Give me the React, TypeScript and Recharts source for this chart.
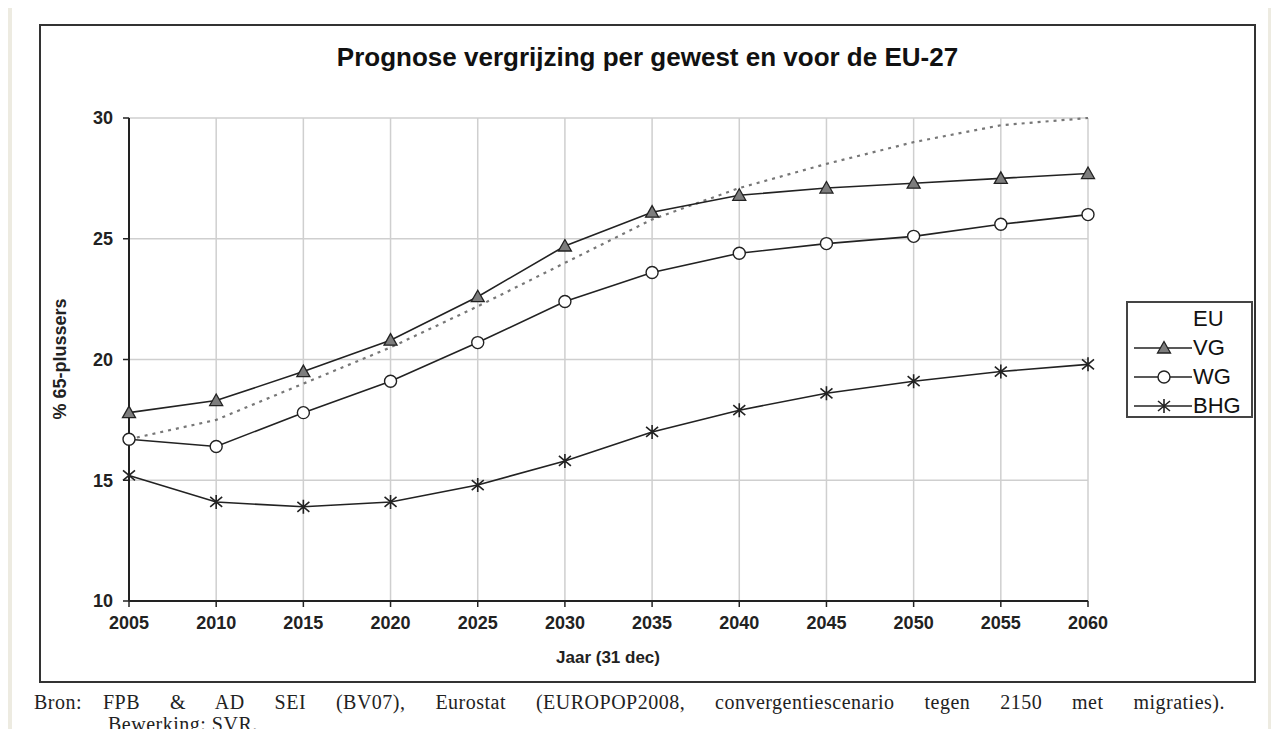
import React from 'react';
import { LineChart, Line, XAxis, YAxis, CartesianGrid } from 'recharts';

// years on the x axis
const years = [2005, 2010, 2015, 2020, 2025, 2030, 2035, 2040, 2045, 2050, 2055, 2060];

// % 65-plussers per series
const euValues = [16.7, 17.5, 19.0, 20.5, 22.2, 24.0, 25.8, 27.1, 28.1, 29.0, 29.7, 30.0];
const vgValues = [17.8, 18.3, 19.5, 20.8, 22.6, 24.7, 26.1, 26.8, 27.1, 27.3, 27.5, 27.7];
const wgValues = [16.7, 16.4, 17.8, 19.1, 20.7, 22.4, 23.6, 24.4, 24.8, 25.1, 25.6, 26.0];
const bhgValues = [15.2, 14.1, 13.9, 14.1, 14.8, 15.8, 17.0, 17.9, 18.6, 19.1, 19.5, 19.8];

const yTicks = [10, 15, 20, 25, 30];

const data = years.map((year, i) => ({
  year,
  EU: euValues[i],
  VG: vgValues[i],
  WG: wgValues[i],
  BHG: bhgValues[i],
}));

const INK = '#222';
const SANS = 'Liberation Sans, Arial, sans-serif';
const SERIF = 'Liberation Serif, Times New Roman, serif';

const Triangle = ({ cx, cy }: { cx: number; cy: number }) => (
  <path
    d={`M${cx},${cy - 6.5} L${cx + 6.5},${cy + 5} L${cx - 6.5},${cy + 5} Z`}
    fill="#7d7d7d"
    stroke={INK}
    strokeWidth={1.3}
  />
);

const Circle = ({ cx, cy }: { cx: number; cy: number }) => (
  <circle cx={cx} cy={cy} r={6} fill="#fff" stroke={INK} strokeWidth={1.4} />
);

const Star = ({ cx, cy }: { cx: number; cy: number }) => (
  <path
    d={`M${cx},${cy - 7} L${cx},${cy + 7} M${cx - 6},${cy - 5} L${cx + 6},${cy + 5} M${cx - 6},${cy + 5} L${cx + 6},${cy - 5}`}
    stroke={INK}
    strokeWidth={1.6}
    fill="none"
  />
);

const dotOf = (Marker: React.FC<{ cx: number; cy: number }>) => (props: any) => (
  <Marker key={`d-${props.index}`} cx={props.cx} cy={props.cy} />
);

const legendItems: { name: string; Marker: React.FC<{ cx: number; cy: number }> | null }[] = [
  { name: 'EU', Marker: null },
  { name: 'VG', Marker: Triangle },
  { name: 'WG', Marker: Circle },
  { name: 'BHG', Marker: Star },
];

const tickStyle = { fontFamily: SANS, fontSize: 18, fontWeight: 700, fill: INK };

const sourceStyle: React.CSSProperties = {
  position: 'absolute',
  fontFamily: SERIF,
  fontSize: 20,
  color: '#222',
  lineHeight: '20px',
  letterSpacing: 0.5,
  whiteSpace: 'nowrap',
};

export default function App() {
  return (
    <div style={{ position: 'relative', width: 1279, height: 737, margin: -8, background: '#edebe1', overflow: 'hidden' }}>
      <div style={{ position: 'absolute', left: 12, top: 8, width: 1256, height: 729, background: '#fff' }} />
      <div
        style={{
          position: 'absolute',
          left: 39,
          top: 24,
          width: 1217,
          height: 659,
          border: '2px solid #333',
          boxSizing: 'border-box',
        }}
      />
      <div
        style={{
          position: 'absolute',
          left: 39,
          width: 1217,
          top: 42,
          textAlign: 'center',
          fontFamily: SANS,
          fontWeight: 700,
          fontSize: 26,
          color: '#111',
        }}
      >
        Prognose vergrijzing per gewest en voor de EU-27
      </div>

      <div style={{ position: 'absolute', left: 41, top: 26 }}>
        <LineChart width={1213} height={655} data={data} margin={{ top: 92, right: 166, left: 28, bottom: 50 }}>
          <CartesianGrid stroke="#cfcfcf" strokeWidth={1.5} />
          <XAxis
            dataKey="year"
            height={30}
            tick={tickStyle}
            tickSize={6}
            tickMargin={9}
            axisLine={{ stroke: INK, strokeWidth: 2 }}
            tickLine={{ stroke: INK, strokeWidth: 1.5 }}
            interval={0}
          />
          <YAxis
            width={60}
            domain={[10, 30]}
            ticks={yTicks}
            tick={tickStyle}
            tickSize={6}
            tickMargin={10}
            axisLine={{ stroke: INK, strokeWidth: 2 }}
            tickLine={{ stroke: INK, strokeWidth: 1.5 }}
          />
          <Line
            dataKey="EU"
            stroke="#777"
            strokeWidth={2.2}
            strokeDasharray="3 5"
            dot={false}
            isAnimationActive={false}
          />
          <Line dataKey="VG" stroke={INK} strokeWidth={1.6} dot={dotOf(Triangle)} isAnimationActive={false} />
          <Line dataKey="WG" stroke={INK} strokeWidth={1.6} dot={dotOf(Circle)} isAnimationActive={false} />
          <Line dataKey="BHG" stroke={INK} strokeWidth={1.6} dot={dotOf(Star)} isAnimationActive={false} />
        </LineChart>
      </div>

      <div
        style={{
          position: 'absolute',
          left: 60,
          top: 359,
          transform: 'translate(-50%, -50%) rotate(-90deg)',
          whiteSpace: 'nowrap',
          fontFamily: SANS,
          fontWeight: 700,
          fontSize: 18,
          color: INK,
        }}
      >
        % 65-plussers
      </div>
      <div
        style={{
          position: 'absolute',
          left: 608,
          top: 658,
          transform: 'translate(-50%, -50%)',
          whiteSpace: 'nowrap',
          fontFamily: SANS,
          fontWeight: 700,
          fontSize: 17,
          color: INK,
        }}
      >
        Jaar (31 dec)
      </div>

      {/* legend */}
      <div
        style={{
          position: 'absolute',
          left: 1126,
          top: 301,
          width: 127,
          height: 117,
          border: '2px solid #444',
          boxSizing: 'border-box',
          background: '#fff',
        }}
      >
        {legendItems.map((item, i) => (
          <div key={item.name} style={{ position: 'absolute', left: 0, top: 3 + i * 29, height: 26, width: 122 }}>
            <svg width={62} height={26} style={{ position: 'absolute', left: 4, top: 0 }}>
              {item.Marker && (
                <>
                  <line x1={2} x2={60} y1={13} y2={13} stroke={INK} strokeWidth={1.6} />
                  <item.Marker cx={32} cy={13} />
                </>
              )}
            </svg>
            <span
              style={{
                position: 'absolute',
                left: 65,
                top: 0,
                lineHeight: '26px',
                fontFamily: SANS,
                fontSize: 22,
                color: '#111',
              }}
            >
              {item.name}
            </span>
          </div>
        ))}
      </div>

      {/* source */}
      <div style={{ ...sourceStyle, left: 34, top: 692 }}>Bron:</div>
      <div
        style={{
          ...sourceStyle,
          left: 103,
          top: 692,
          width: 1122,
          textAlign: 'justify',
          textAlignLast: 'justify',
        }}
      >
        FPB &amp; AD SEI (BV07), Eurostat (EUROPOP2008, convergentiescenario tegen 2150 met migraties).
      </div>
      <div style={{ ...sourceStyle, left: 108, top: 714 }}>Bewerking: SVR.</div>
    </div>
  );
}
